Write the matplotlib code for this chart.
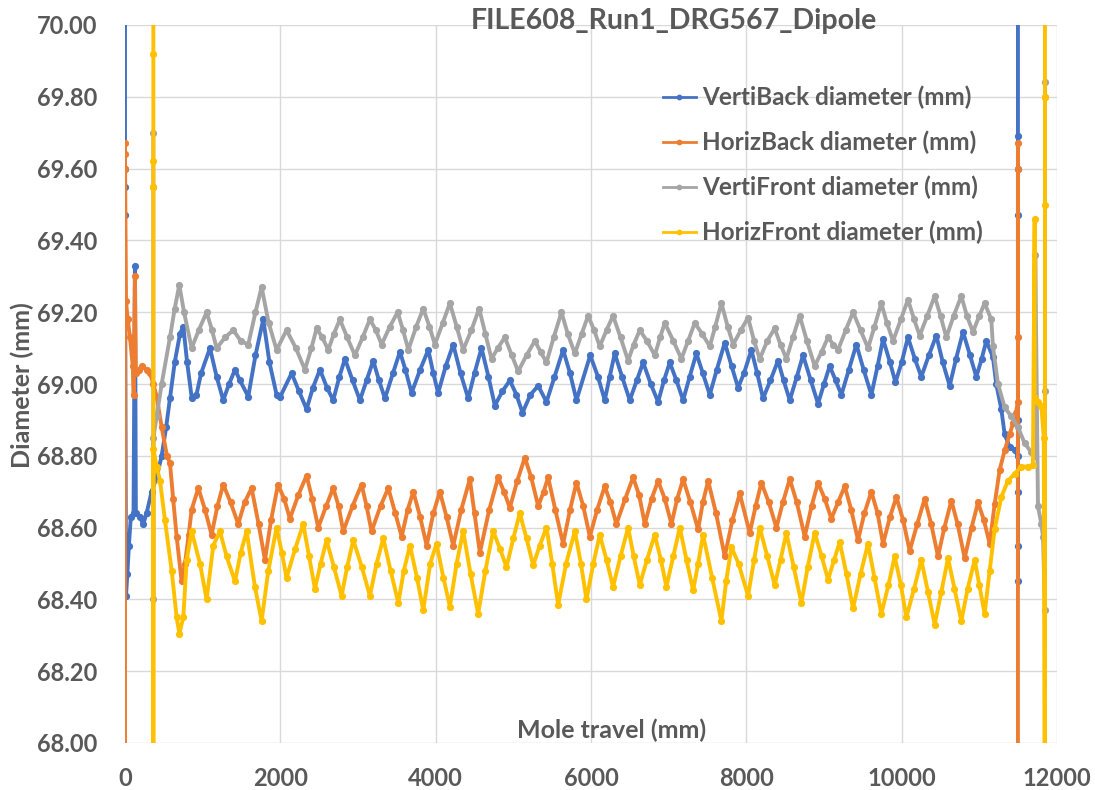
import matplotlib
matplotlib.use("Agg")
import matplotlib.pyplot as plt
from matplotlib.ticker import FormatStrFormatter, MultipleLocator

plt.rcParams['font.family'] = ['Lato', 'DejaVu Sans']

TITLE = "FILE608_Run1_DRG567_Dipole"
X_LABEL = "Mole travel (mm)"
Y_LABEL = "Diameter (mm)"

# VertiBack diameter (mm)
vb_x = [0, 0, 0, 0, 13, 30, 50, 75, 110, 128, 140, 190, 235, 278, 342, 408, 472, 530, 579, 640,
        708, 751, 800, 860, 920, 980, 1094, 1180, 1265, 1340, 1416, 1480, 1587, 1680, 1780, 1860,
        1952, 2000, 2145, 2240, 2338, 2420, 2510, 2600, 2681, 2760, 2832, 2930, 3025, 3110, 3196,
        3270, 3347, 3450, 3540, 3610, 3690, 3800, 3905, 3970, 4032, 4130, 4226, 4320, 4419, 4500,
        4590, 4680, 4762, 4860, 4955, 5040, 5118, 5220, 5320, 5427, 5530, 5641, 5730, 5813, 5990,
        6090, 6177, 6240, 6306, 6400, 6499, 6590, 6671, 6770, 6864, 6940, 7014, 7100, 7186, 7270,
        7357, 7440, 7529, 7620, 7722, 7810, 7894, 7970, 8065, 8140, 8215, 8310, 8408, 8480, 8559,
        8650, 8730, 8830, 8923, 9000, 9073, 9150, 9224, 9320, 9417, 9510, 9610, 9690, 9760, 9850,
        9920, 10000, 10081, 10170, 10253, 10350, 10446, 10530, 10618, 10700, 10790, 10880, 10961,
        11030, 11090, 11175, 11218, 11283, 11326, 11390, 11454, 11497, 11497, 11497, 11497, 11497,
        11497, 11497, 11497, 11497]
vb_y = [70.60, 69.60, 69.55, 69.47, 68.41, 68.47, 68.55, 68.63, 68.64, 69.33, 68.64, 68.63, 68.61,
        68.64, 68.70, 68.74, 68.80, 68.88, 68.96, 69.06, 69.14, 69.16, 69.06, 68.96, 68.97, 69.03,
        69.10, 69.02, 68.955, 69.00, 69.04, 69.01, 68.965, 69.08, 69.18, 69.06, 68.97, 68.965,
        69.03, 68.98, 68.93, 68.99, 69.04, 68.99, 68.955, 69.02, 69.07, 69.01, 68.955, 69.01,
        69.065, 69.01, 68.96, 69.03, 69.09, 69.04, 68.975, 69.04, 69.095, 69.03, 68.975, 69.05,
        69.11, 69.03, 68.96, 69.03, 69.10, 69.02, 68.94, 68.98, 69.01, 68.97, 68.92, 68.97, 68.995,
        68.95, 69.02, 69.095, 69.03, 68.955, 69.08, 69.02, 68.955, 69.02, 69.085, 69.02, 68.955,
        69.01, 69.06, 69.00, 68.95, 69.01, 69.06, 69.01, 68.955, 69.02, 69.085, 69.03, 68.97,
        69.04, 69.115, 69.05, 68.99, 69.03, 69.095, 69.03, 68.96, 69.01, 69.065, 69.01, 68.955,
        69.02, 69.08, 69.01, 68.945, 69.00, 69.05, 69.01, 68.97, 69.04, 69.11, 69.04, 68.97,
        69.05, 69.125, 69.06, 69.005, 69.06, 69.13, 69.07, 69.02, 69.08, 69.135, 69.06, 68.995,
        69.07, 69.145, 69.08, 69.02, 69.07, 69.12, 69.075, 69.00, 68.93, 68.86, 68.825, 68.815,
        68.80, 68.45, 68.55, 68.70, 68.90, 69.47, 69.60, 69.69, 70.60]

# HorizBack diameter (mm)
hb_x = [0, 0, 0, 0, 13, 35, 64, 100, 112, 128, 140, 180, 215, 280, 322, 365, 408, 472, 540, 579,
        620, 665, 729, 772, 820, 858, 944, 1030, 1115, 1190, 1265, 1360, 1458, 1540, 1630, 1720,
        1802, 1880, 1970, 2050, 2123, 2230, 2338, 2410, 2488, 2590, 2681, 2750, 2810, 2930, 3046,
        3110, 3175, 3290, 3390, 3480, 3562, 3640, 3712, 3800, 3884, 3970, 4054, 4140, 4226, 4330,
        4440, 4500, 4569, 4690, 4805, 4880, 4955, 5050, 5148, 5230, 5320, 5390, 5448, 5540, 5641,
        5730, 5813, 5900, 5985, 6080, 6177, 6250, 6327, 6440, 6542, 6620, 6693, 6780, 6864, 6950,
        7036, 7110, 7186, 7280, 7379, 7440, 7508, 7610, 7722, 7820, 7915, 8044, 8120, 8194, 8290,
        8387, 8470, 8559, 8650, 8752, 8840, 8923, 9010, 9095, 9180, 9267, 9350, 9438, 9520, 9610,
        9690, 9760, 9850, 9932, 10020, 10103, 10200, 10296, 10380, 10468, 10550, 10640, 10720,
        10811, 10900, 10983, 11060, 11133, 11197, 11261, 11326, 11390, 11433, 11470, 11497, 11497,
        11497, 11497, 11497]
hb_y = [67.40, 69.60, 69.67, 69.64, 69.23, 69.18, 69.13, 69.05, 68.97, 69.30, 69.03, 69.04, 69.05,
        69.04, 69.03, 69.00, 68.965, 68.88, 68.80, 68.78, 68.68, 68.575, 68.45, 68.50, 68.58,
        68.65, 68.71, 68.65, 68.58, 68.66, 68.72, 68.67, 68.61, 68.67, 68.71, 68.61, 68.51, 68.62,
        68.72, 68.68, 68.625, 68.69, 68.745, 68.68, 68.60, 68.66, 68.71, 68.66, 68.59, 68.66,
        68.72, 68.66, 68.59, 68.66, 68.71, 68.64, 68.575, 68.65, 68.70, 68.63, 68.55, 68.64, 68.70,
        68.63, 68.55, 68.65, 68.735, 68.64, 68.53, 68.65, 68.74, 68.70, 68.655, 68.73, 68.795,
        68.74, 68.66, 68.70, 68.74, 68.65, 68.555, 68.65, 68.725, 68.66, 68.575, 68.65, 68.715,
        68.67, 68.61, 68.68, 68.74, 68.69, 68.61, 68.68, 68.73, 68.68, 68.61, 68.68, 68.735, 68.67,
        68.595, 68.67, 68.73, 68.64, 68.52, 68.62, 68.695, 68.585, 68.66, 68.725, 68.67, 68.60,
        68.67, 68.735, 68.67, 68.575, 68.66, 68.725, 68.68, 68.625, 68.67, 68.715, 68.65, 68.565,
        68.64, 68.70, 68.64, 68.555, 68.63, 68.685, 68.62, 68.535, 68.61, 68.68, 68.61, 68.52,
        68.60, 68.675, 68.61, 68.515, 68.60, 68.67, 68.62, 68.555, 68.665, 68.76, 68.815, 68.86,
        68.89, 68.92, 68.95, 69.13, 69.67, 69.60, 67.40]

# VertiFront diameter (mm)
vf_x = [365, 365, 365, 365, 408, 472, 579, 640, 699, 760, 858, 950, 1051, 1120, 1180, 1290, 1394,
        1490, 1587, 1680, 1759, 1850, 1952, 2080, 2200, 2316, 2400, 2467, 2540, 2617, 2690, 2767,
        2860, 2960, 3060, 3153, 3230, 3304, 3410, 3510, 3580, 3648, 3750, 3840, 3920, 3990, 4090,
        4183, 4270, 4354, 4460, 4560, 4640, 4719, 4800, 4890, 4980, 5062, 5170, 5277, 5350, 5427,
        5520, 5620, 5700, 5792, 5880, 5963, 6040, 6113, 6200, 6284, 6380, 6478, 6550, 6628, 6720,
        6821, 6890, 6950, 7060, 7164, 7250, 7336, 7430, 7529, 7600, 7679, 7760, 7830, 7930, 8022,
        8100, 8172, 8270, 8365, 8440, 8516, 8600, 8687, 8780, 8880, 8970, 9052, 9120, 9181, 9280,
        9374, 9470, 9567, 9650, 9738, 9810, 9889, 9990, 10081, 10160, 10232, 10330, 10425, 10500,
        10575, 10670, 10768, 10840, 10918, 11000, 11068, 11154, 11175, 11240, 11326, 11411, 11497,
        11583, 11669, 11712, 11720, 11755, 11798, 11820, 11845, 11845, 11845, 11845]
vf_y = [69.70, 69.55, 68.40, 68.85, 68.91, 69.00, 69.13, 69.21, 69.276, 69.20, 69.10, 69.15, 69.20,
        69.15, 69.10, 69.13, 69.15, 69.12, 69.11, 69.20, 69.27, 69.17, 69.095, 69.15, 69.10,
        69.04, 69.10, 69.155, 69.13, 69.095, 69.14, 69.18, 69.13, 69.08, 69.13, 69.18, 69.15,
        69.11, 69.16, 69.20, 69.15, 69.095, 69.16, 69.21, 69.16, 69.11, 69.17, 69.225, 69.16,
        69.095, 69.15, 69.21, 69.14, 69.07, 69.10, 69.13, 69.08, 69.035, 69.08, 69.12, 69.09,
        69.06, 69.13, 69.20, 69.14, 69.085, 69.14, 69.19, 69.15, 69.105, 69.15, 69.19, 69.13,
        69.065, 69.11, 69.15, 69.12, 69.08, 69.13, 69.17, 69.12, 69.07, 69.12, 69.17, 69.14,
        69.105, 69.16, 69.225, 69.16, 69.11, 69.15, 69.185, 69.12, 69.07, 69.12, 69.155, 69.11,
        69.07, 69.13, 69.19, 69.12, 69.05, 69.09, 69.13, 69.11, 69.095, 69.15, 69.20, 69.15,
        69.10, 69.16, 69.225, 69.17, 69.12, 69.18, 69.235, 69.18, 69.135, 69.19, 69.245, 69.19,
        69.13, 69.19, 69.245, 69.19, 69.145, 69.19, 69.225, 69.18, 69.105, 69.00, 68.935, 68.91,
        68.88, 68.835, 68.81, 68.80, 69.36, 68.66, 68.61, 68.575, 68.37, 68.98, 69.80, 69.84]

# HorizFront diameter (mm)
hf_x = [365, 365, 365, 365, 365, 365, 408, 451, 515, 601, 665, 700, 751, 794, 858, 965, 1051, 1137,
        1222, 1308, 1416, 1490, 1566, 1673, 1759, 1845, 1952, 2020, 2080, 2190, 2295, 2370, 2445,
        2520, 2595, 2690, 2789, 2860, 2939, 3050, 3153, 3240, 3325, 3420, 3519, 3590, 3669, 3760,
        3840, 3930, 4011, 4100, 4183, 4270, 4354, 4450, 4547, 4640, 4740, 4830, 4912, 5000, 5083,
        5170, 5255, 5340, 5427, 5500, 5577, 5680, 5792, 5870, 5942, 6030, 6113, 6200, 6284, 6380,
        6478, 6550, 6628, 6720, 6821, 6900, 6971, 7060, 7143, 7230, 7315, 7380, 7443, 7560, 7679,
        7740, 7808, 7900, 8022, 8100, 8172, 8270, 8365, 8440, 8516, 8610, 8709, 8790, 8880, 8970,
        9052, 9130, 9202, 9290, 9374, 9470, 9567, 9650, 9738, 9830, 9910, 9990, 10060, 10160,
        10253, 10340, 10425, 10510, 10597, 10680, 10768, 10850, 10940, 11000, 11068, 11133, 11197,
        11283, 11368, 11454, 11540, 11626, 11690, 11712, 11712, 11755, 11798, 11830, 11845, 11845,
        11845, 11845]
hf_y = [70.60, 69.92, 69.62, 69.55, 67.40, 68.82, 68.77, 68.73, 68.62, 68.48, 68.35, 68.305, 68.35,
        68.51, 68.59, 68.50, 68.40, 68.55, 68.59, 68.52, 68.45, 68.53, 68.59, 68.435, 68.34, 68.48,
        68.60, 68.53, 68.46, 68.54, 68.61, 68.52, 68.43, 68.50, 68.565, 68.49, 68.41, 68.49,
        68.565, 68.49, 68.41, 68.50, 68.57, 68.48, 68.39, 68.48, 68.55, 68.46, 68.37, 68.50,
        68.555, 68.46, 68.38, 68.50, 68.59, 68.47, 68.36, 68.48, 68.59, 68.54, 68.49, 68.57, 68.64,
        68.57, 68.495, 68.55, 68.60, 68.50, 68.385, 68.50, 68.59, 68.50, 68.40, 68.50, 68.58,
        68.51, 68.435, 68.52, 68.60, 68.52, 68.44, 68.51, 68.58, 68.51, 68.435, 68.52, 68.60,
        68.51, 68.425, 68.50, 68.58, 68.46, 68.34, 68.45, 68.545, 68.50, 68.41, 68.51, 68.60,
        68.52, 68.44, 68.51, 68.585, 68.49, 68.39, 68.49, 68.585, 68.52, 68.455, 68.51, 68.56,
        68.47, 68.375, 68.47, 68.555, 68.46, 68.36, 68.44, 68.52, 68.44, 68.35, 68.43, 68.51,
        68.42, 68.33, 68.42, 68.515, 68.43, 68.34, 68.43, 68.51, 68.44, 68.36, 68.48, 68.595,
        68.685, 68.73, 68.75, 68.77, 68.77, 68.775, 69.46, 68.96, 68.95, 68.94, 68.85, 67.40,
        69.50, 69.80, 70.60]

SERIES = [
    ("VertiBack diameter (mm)", vb_x, vb_y, "#4472C4"),
    ("HorizBack diameter (mm)", hb_x, hb_y, "#ED7D31"),
    ("VertiFront diameter (mm)", vf_x, vf_y, "#A5A5A5"),
    ("HorizFront diameter (mm)", hf_x, hf_y, "#FFC000"),
]

TEXT = "#595959"
GRID = "#D9D9D9"

fig = plt.figure(figsize=(10.95, 7.90), dpi=100)
ax = fig.add_axes([125 / 1095, 1 - 743 / 790, 932 / 1095, 718 / 790])

for name, xs, ys, col in SERIES:
    ax.plot(xs, ys, color=col, lw=2.8, marker="o", ms=5.2, mew=0,
            solid_joinstyle="round", label=name)

ax.set_xlim(0, 12000)
ax.set_ylim(68.0, 70.0)
ax.xaxis.set_major_locator(MultipleLocator(2000))
ax.yaxis.set_major_locator(MultipleLocator(0.2))
ax.yaxis.set_major_formatter(FormatStrFormatter("%.2f"))
ax.grid(True, color=GRID, lw=1.0)
ax.set_axisbelow(True)
for s in ax.spines.values():
    s.set_visible(False)
ax.tick_params(length=0, labelsize=17, colors=TEXT)
ax.tick_params(axis="x", pad=17)
ax.tick_params(axis="y", pad=20)
for lab in ax.get_xticklabels() + ax.get_yticklabels():
    lab.set_fontweight("bold")

ax.text(0.5225, 0.018, X_LABEL, transform=ax.transAxes, ha="center", va="center",
        fontsize=18, fontweight="bold", color=TEXT)
fig.text(22 / 1095, 1 - 385 / 790, Y_LABEL, rotation=90, ha="center", va="center",
         fontsize=18, fontweight="bold", color=TEXT)
fig.text(674 / 1095, 1 - 21 / 790, TITLE, ha="center", va="center",
         fontsize=20.5, fontweight="bold", color=TEXT)

leg = ax.legend(loc="upper left", bbox_to_anchor=((663 - 125) / 932, (743 - 86) / 718),
                frameon=False, fontsize=17.5, handlelength=1.35, handletextpad=0.25,
                labelspacing=0.88, borderpad=0, borderaxespad=0, markerscale=0.8)
for t in leg.get_texts():
    t.set_color(TEXT)
    t.set_fontweight("bold")
for h in leg.legend_handles:
    h.set_linewidth(2.0)

fig.savefig("out.png", dpi=100)
